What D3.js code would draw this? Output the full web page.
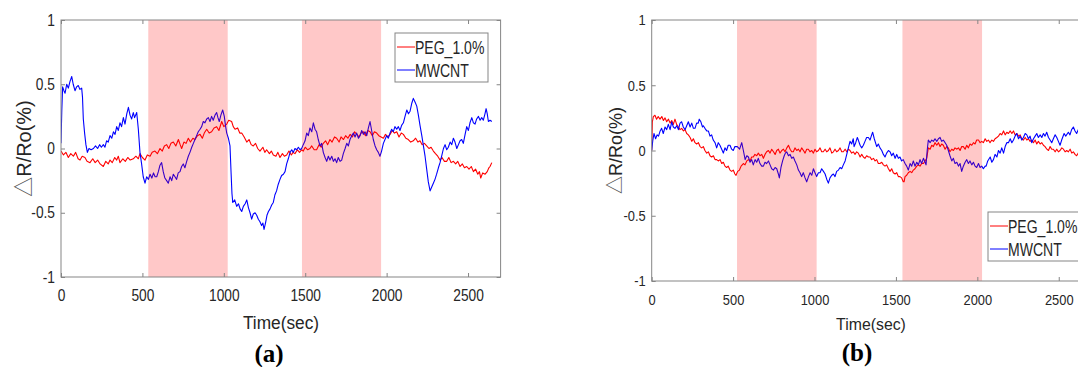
<!DOCTYPE html>
<html>
<head>
<meta charset="utf-8">
<script src="https://cdn.jsdelivr.net/npm/d3@7"></script>
<style>
  html, body { margin: 0; padding: 0; background: #fff; }
  svg { display: block; }
</style>
</head>
<body>
<div id="chart"></div>
<script>
// ---- data ----
const timeTicks = [0, 500, 1000, 1500, 2000, 2500];
const yTicks = [-1, -0.5, 0, 0.5, 1];
const seriesNames = ["PEG_1.0%", "MWCNT"];
const seriesColors = ["#ff0000", "#0000ff"];

// shaded intervals (sec)
const shadeA = [[536, 1024], [1480, 1966]];
const shadeB = [[524, 1013], [1540, 2029]];

// panel (a)
const pegA = [[0,-0.02],[15,-0.05],[30,-0.03],[45,-0.07],[60,-0.04],[76,-0.06],[90,-0.03],[105,-0.08],[117,-0.09],[130,-0.06],[147,-0.07],[160,-0.10],[178,-0.11],[195,-0.08],[210,-0.11],[225,-0.09],[240,-0.12],[260,-0.14],[275,-0.10],[290,-0.12],[301,-0.09],[315,-0.11],[330,-0.07],[342,-0.09],[352,-0.06],[362,-0.11],[380,-0.08],[395,-0.10],[410,-0.07],[425,-0.09],[444,-0.08],[460,-0.06],[475,-0.08],[485,-0.04],[500,-0.07],[516,-0.09],[530,-0.05],[547,-0.06],[560,-0.03],[577,-0.02],[592,-0.04],[608,0.0],[622,-0.02],[635,0.02],[649,0.03],[662,0.0],[675,0.04],[690,0.05],[705,0.02],[721,0.07],[732,0.03],[741,0.0],[755,0.05],[768,0.04],[782,0.08],[795,0.05],[810,0.08],[823,0.07],[838,0.10],[854,0.11],[868,0.08],[880,0.12],[895,0.15],[910,0.12],[925,0.13],[940,0.16],[956,0.17],[970,0.14],[987,0.21],[1000,0.17],[1018,0.19],[1030,0.22],[1048,0.21],[1058,0.17],[1069,0.15],[1085,0.16],[1098,0.12],[1110,0.12],[1125,0.09],[1141,0.05],[1155,0.07],[1168,0.03],[1181,0.02],[1195,0.04],[1208,0.0],[1222,-0.02],[1240,0.01],[1252,-0.03],[1263,-0.01],[1280,-0.04],[1292,-0.02],[1304,-0.05],[1320,-0.06],[1332,-0.03],[1345,-0.07],[1360,-0.04],[1372,-0.06],[1386,-0.05],[1400,-0.02],[1415,-0.05],[1425,-0.03],[1437,-0.04],[1452,-0.01],[1465,-0.03],[1478,-0.01],[1488,-0.02],[1500,0.01],[1515,-0.01],[1529,0.0],[1540,0.02],[1555,-0.01],[1570,-0.01],[1585,0.03],[1598,0.01],[1611,0.04],[1625,0.06],[1638,0.03],[1652,0.07],[1665,0.05],[1680,0.09],[1693,0.08],[1708,0.05],[1720,0.09],[1735,0.07],[1748,0.10],[1762,0.08],[1776,0.11],[1790,0.09],[1803,0.13],[1817,0.11],[1830,0.09],[1843,0.12],[1857,0.13],[1870,0.10],[1884,0.14],[1898,0.13],[1912,0.10],[1925,0.13],[1939,0.12],[1952,0.10],[1966,0.09],[1980,0.08],[1993,0.11],[2008,0.09],[2021,0.11],[2035,0.14],[2048,0.12],[2062,0.13],[2076,0.09],[2090,0.12],[2103,0.11],[2118,0.08],[2133,0.07],[2148,0.05],[2164,0.06],[2178,0.08],[2192,0.05],[2205,0.06],[2218,0.03],[2232,0.04],[2246,0.02],[2260,0.0],[2273,0.01],[2287,-0.02],[2300,-0.04],[2314,-0.06],[2328,-0.09],[2340,-0.07],[2355,-0.10],[2369,-0.10],[2382,-0.07],[2396,-0.11],[2410,-0.10],[2424,-0.12],[2437,-0.10],[2451,-0.14],[2465,-0.12],[2478,-0.15],[2492,-0.14],[2506,-0.16],[2520,-0.14],[2533,-0.18],[2546,-0.16],[2560,-0.20],[2570,-0.18],[2578,-0.23],[2590,-0.19],[2605,-0.20],[2618,-0.18],[2628,-0.15],[2635,-0.14],[2646,-0.11]];

const mwcntA = [[0,0.04],[5,0.30],[10,0.48],[18,0.45],[25,0.43],[35,0.50],[45,0.47],[55,0.52],[66,0.56],[75,0.50],[86,0.45],[96,0.48],[106,0.49],[116,0.46],[127,0.47],[132,0.40],[137,0.23],[145,0.12],[153,0.03],[162,-0.03],[172,0.0],[185,-0.01],[199,0.0],[212,0.02],[225,0.0],[237,0.03],[248,0.01],[260,0.03],[270,0.01],[280,0.06],[290,0.05],[301,0.10],[312,0.08],[322,0.13],[332,0.11],[342,0.17],[352,0.14],[362,0.20],[372,0.17],[383,0.24],[393,0.19],[404,0.27],[414,0.32],[424,0.26],[434,0.23],[444,0.28],[452,0.24],[465,0.28],[475,0.15],[485,-0.03],[495,-0.12],[505,-0.22],[516,-0.27],[526,-0.22],[537,-0.24],[547,-0.20],[558,-0.23],[568,-0.19],[578,-0.22],[588,-0.22],[598,-0.18],[608,-0.13],[618,-0.11],[628,-0.18],[638,-0.23],[649,-0.25],[659,-0.27],[670,-0.22],[680,-0.25],[690,-0.20],[700,-0.22],[710,-0.24],[720,-0.19],[731,-0.18],[741,-0.14],[751,-0.12],[761,-0.15],[772,-0.10],[782,-0.06],[792,-0.03],[803,0.01],[813,0.04],[823,0.07],[833,0.10],[843,0.13],[854,0.15],[864,0.17],[874,0.21],[884,0.20],[895,0.23],[905,0.24],[915,0.21],[925,0.25],[935,0.22],[946,0.26],[956,0.28],[964,0.24],[972,0.21],[982,0.26],[993,0.30],[1003,0.25],[1010,0.18],[1018,0.12],[1028,0.08],[1038,0.02],[1045,-0.20],[1050,-0.35],[1055,-0.42],[1067,-0.40],[1079,-0.45],[1090,-0.43],[1100,-0.47],[1110,-0.49],[1120,-0.45],[1131,-0.43],[1141,-0.40],[1151,-0.46],[1161,-0.50],[1171,-0.55],[1181,-0.51],[1192,-0.50],[1202,-0.52],[1212,-0.55],[1222,-0.57],[1232,-0.60],[1240,-0.58],[1247,-0.63],[1256,-0.58],[1265,-0.52],[1274,-0.49],[1284,-0.47],[1294,-0.44],[1304,-0.42],[1314,-0.36],[1324,-0.33],[1334,-0.28],[1345,-0.24],[1355,-0.21],[1366,-0.20],[1376,-0.18],[1386,-0.12],[1396,-0.08],[1407,-0.03],[1417,-0.01],[1427,-0.03],[1437,0.0],[1447,-0.01],[1458,0.01],[1468,-0.01],[1478,0.0],[1488,0.03],[1499,0.06],[1509,0.12],[1519,0.10],[1529,0.16],[1540,0.13],[1550,0.20],[1560,0.15],[1570,0.13],[1580,0.07],[1591,0.02],[1601,0.04],[1611,-0.03],[1622,-0.07],[1632,-0.10],[1642,-0.06],[1652,-0.09],[1663,-0.06],[1673,-0.10],[1683,-0.08],[1693,-0.11],[1703,-0.07],[1714,-0.10],[1724,-0.09],[1734,-0.04],[1745,0.0],[1755,0.04],[1765,0.02],[1775,0.07],[1786,0.10],[1796,0.12],[1806,0.09],[1816,0.12],[1827,0.08],[1837,0.10],[1847,0.14],[1857,0.11],[1867,0.13],[1878,0.10],[1888,0.16],[1898,0.21],[1908,0.14],[1918,0.07],[1929,0.02],[1939,-0.01],[1949,-0.03],[1959,-0.06],[1969,-0.02],[1980,0.04],[1990,0.07],[2000,0.10],[2010,0.08],[2021,0.12],[2031,0.15],[2041,0.13],[2051,0.17],[2062,0.15],[2072,0.17],[2082,0.14],[2092,0.18],[2103,0.20],[2113,0.25],[2124,0.30],[2134,0.27],[2144,0.29],[2154,0.35],[2164,0.39],[2175,0.36],[2185,0.33],[2195,0.26],[2205,0.18],[2216,0.10],[2226,0.02],[2236,-0.06],[2246,-0.16],[2256,-0.26],[2267,-0.33],[2277,-0.30],[2287,-0.27],[2297,-0.24],[2307,-0.20],[2318,-0.15],[2328,-0.11],[2338,-0.06],[2349,0.0],[2359,0.03],[2369,-0.01],[2379,0.01],[2390,0.05],[2400,0.03],[2410,0.08],[2420,0.05],[2431,0.0],[2441,0.03],[2451,0.06],[2461,0.07],[2471,0.04],[2482,0.11],[2492,0.17],[2502,0.14],[2512,0.20],[2523,0.24],[2533,0.20],[2543,0.19],[2553,0.23],[2564,0.25],[2574,0.22],[2584,0.24],[2594,0.22],[2604,0.27],[2611,0.31],[2618,0.27],[2625,0.21],[2635,0.22],[2646,0.21]];

// panel (b)
const pegB = [[0,0.0],[4,0.22],[10,0.26],[20,0.27],[30,0.24],[40,0.26],[51,0.24],[62,0.26],[72,0.23],[82,0.25],[92,0.22],[103,0.24],[113,0.21],[123,0.23],[133,0.20],[143,0.24],[153,0.20],[164,0.18],[174,0.16],[184,0.17],[195,0.15],[205,0.16],[215,0.13],[225,0.12],[236,0.10],[246,0.07],[256,0.09],[266,0.06],[276,0.05],[287,0.06],[297,0.03],[307,0.02],[317,0.03],[327,0.0],[338,-0.02],[348,-0.01],[358,-0.04],[368,-0.05],[379,-0.04],[389,-0.07],[399,-0.07],[409,-0.08],[420,-0.07],[430,-0.10],[440,-0.09],[450,-0.12],[460,-0.13],[470,-0.12],[481,-0.15],[491,-0.16],[501,-0.15],[511,-0.18],[518,-0.19],[528,-0.16],[539,-0.15],[549,-0.12],[563,-0.10],[573,-0.11],[584,-0.08],[594,-0.07],[604,-0.08],[614,-0.05],[624,-0.05],[634,-0.03],[645,-0.04],[655,-0.02],[665,-0.04],[676,-0.03],[686,-0.06],[696,-0.03],[706,-0.01],[717,0.0],[727,-0.02],[737,0.01],[748,-0.01],[758,-0.03],[768,0.0],[778,0.01],[788,-0.02],[799,0.0],[809,0.01],[819,-0.01],[830,0.02],[840,0.04],[850,0.01],[860,-0.01],[870,-0.01],[880,0.02],[891,0.0],[901,0.01],[911,-0.01],[921,0.02],[932,0.0],[942,-0.02],[952,0.01],[962,0.01],[972,-0.01],[983,0.0],[993,-0.02],[1003,0.01],[1013,-0.01],[1024,0.0],[1034,0.02],[1044,-0.01],[1054,-0.01],[1065,0.01],[1075,-0.01],[1085,0.0],[1095,0.02],[1106,-0.02],[1116,-0.01],[1126,0.01],[1136,-0.01],[1147,0.0],[1157,0.02],[1167,-0.01],[1177,-0.01],[1188,0.01],[1198,-0.01],[1208,0.01],[1218,0.0],[1228,-0.02],[1238,-0.01],[1249,-0.03],[1259,-0.01],[1269,-0.02],[1280,-0.05],[1290,-0.03],[1300,-0.05],[1310,-0.06],[1320,-0.04],[1331,-0.05],[1341,-0.05],[1351,-0.07],[1362,-0.06],[1372,-0.08],[1382,-0.07],[1392,-0.10],[1402,-0.10],[1413,-0.09],[1423,-0.11],[1433,-0.12],[1443,-0.11],[1454,-0.14],[1464,-0.16],[1474,-0.14],[1484,-0.17],[1495,-0.18],[1505,-0.17],[1515,-0.20],[1525,-0.20],[1535,-0.21],[1545,-0.24],[1550,-0.24],[1556,-0.20],[1566,-0.19],[1576,-0.17],[1587,-0.16],[1597,-0.17],[1607,-0.15],[1617,-0.14],[1628,-0.12],[1638,-0.11],[1648,-0.12],[1658,-0.10],[1669,-0.10],[1679,-0.08],[1689,-0.06],[1694,-0.02],[1699,0.02],[1710,0.01],[1720,0.04],[1730,0.03],[1740,0.06],[1751,0.04],[1761,0.06],[1771,0.03],[1781,0.05],[1791,0.04],[1802,0.01],[1812,0.03],[1822,0.02],[1832,-0.01],[1843,0.01],[1853,0.0],[1863,0.02],[1873,0.01],[1884,0.02],[1894,0.0],[1904,0.03],[1914,0.03],[1925,0.01],[1935,0.04],[1945,0.02],[1955,0.05],[1966,0.04],[1976,0.06],[1986,0.05],[1996,0.08],[2007,0.08],[2017,0.06],[2027,0.07],[2037,0.06],[2048,0.09],[2058,0.07],[2068,0.08],[2078,0.06],[2089,0.08],[2099,0.07],[2109,0.09],[2120,0.10],[2130,0.11],[2140,0.13],[2150,0.12],[2161,0.15],[2171,0.12],[2181,0.14],[2191,0.13],[2202,0.15],[2212,0.13],[2222,0.15],[2232,0.12],[2243,0.13],[2253,0.11],[2263,0.12],[2273,0.09],[2283,0.08],[2294,0.10],[2304,0.08],[2314,0.09],[2324,0.07],[2335,0.08],[2345,0.06],[2355,0.08],[2365,0.05],[2375,0.07],[2386,0.05],[2396,0.06],[2406,0.04],[2416,0.03],[2427,0.01],[2437,0.0],[2447,0.03],[2457,0.01],[2467,0.01],[2478,-0.01],[2488,0.01],[2498,-0.01],[2508,0.0],[2519,0.02],[2529,0.01],[2539,-0.01],[2549,0.0],[2559,-0.01],[2570,0.01],[2580,-0.02],[2590,-0.01],[2600,-0.03],[2610,-0.04],[2620,-0.02],[2640,-0.03]];

const mwcntB = [[0,0.0],[7,0.08],[14,0.13],[24,0.09],[33,0.12],[42,0.11],[52,0.15],[61,0.17],[71,0.13],[82,0.18],[92,0.16],[102,0.20],[113,0.16],[123,0.22],[133,0.18],[143,0.17],[154,0.19],[164,0.16],[174,0.21],[184,0.22],[194,0.18],[205,0.16],[215,0.19],[225,0.22],[236,0.18],[246,0.21],[256,0.17],[266,0.17],[276,0.21],[286,0.21],[292,0.24],[302,0.22],[312,0.18],[317,0.19],[327,0.17],[338,0.15],[348,0.15],[358,0.11],[368,0.12],[378,0.08],[389,0.06],[399,0.02],[409,0.06],[419,0.04],[430,0.01],[440,-0.02],[450,0.02],[460,0.0],[470,0.04],[481,0.04],[491,0.01],[501,0.0],[511,0.03],[526,0.03],[540,0.01],[553,0.06],[563,0.0],[574,-0.07],[584,-0.04],[594,-0.05],[604,-0.09],[614,-0.07],[624,-0.11],[635,-0.07],[645,-0.09],[655,-0.06],[665,-0.10],[676,-0.12],[686,-0.12],[696,-0.09],[706,-0.10],[717,-0.08],[727,-0.11],[737,-0.14],[748,-0.15],[758,-0.13],[768,-0.14],[778,-0.18],[784,-0.21],[794,-0.13],[804,-0.08],[814,-0.04],[821,-0.02],[829,-0.01],[840,-0.04],[850,-0.03],[860,-0.06],[870,-0.05],[880,-0.08],[891,-0.11],[901,-0.15],[911,-0.17],[921,-0.20],[931,-0.17],[942,-0.21],[952,-0.24],[963,-0.20],[973,-0.17],[983,-0.19],[993,-0.14],[1003,-0.17],[1013,-0.20],[1024,-0.17],[1034,-0.17],[1044,-0.14],[1055,-0.16],[1065,-0.18],[1075,-0.22],[1085,-0.25],[1095,-0.21],[1106,-0.19],[1116,-0.18],[1126,-0.20],[1136,-0.16],[1147,-0.15],[1157,-0.13],[1167,-0.14],[1177,-0.11],[1188,-0.08],[1198,-0.03],[1208,0.02],[1218,0.07],[1228,0.05],[1238,0.09],[1243,0.03],[1253,0.06],[1263,0.10],[1269,0.08],[1280,0.04],[1290,0.02],[1300,0.04],[1310,0.07],[1320,0.10],[1331,0.10],[1341,0.08],[1351,0.12],[1357,0.14],[1367,0.09],[1382,0.03],[1392,0.05],[1402,0.02],[1413,0.0],[1423,-0.03],[1433,-0.05],[1443,-0.02],[1454,0.0],[1464,-0.01],[1474,-0.04],[1484,-0.02],[1495,-0.06],[1505,-0.03],[1515,-0.06],[1525,-0.05],[1535,-0.08],[1545,-0.07],[1556,-0.10],[1566,-0.12],[1576,-0.15],[1587,-0.10],[1597,-0.12],[1607,-0.08],[1617,-0.12],[1628,-0.09],[1638,-0.11],[1648,-0.07],[1658,-0.10],[1669,-0.06],[1679,-0.09],[1685,-0.11],[1692,0.0],[1699,0.08],[1710,0.06],[1720,0.08],[1730,0.07],[1740,0.09],[1751,0.07],[1761,0.09],[1771,0.10],[1781,0.07],[1791,0.08],[1802,0.06],[1812,0.04],[1822,0.0],[1832,-0.04],[1843,-0.08],[1853,-0.06],[1863,-0.10],[1874,-0.09],[1884,-0.12],[1894,-0.10],[1904,-0.16],[1914,-0.12],[1925,-0.09],[1935,-0.07],[1945,-0.10],[1955,-0.08],[1966,-0.11],[1976,-0.09],[1986,-0.12],[1996,-0.13],[2007,-0.10],[2017,-0.13],[2027,-0.12],[2037,-0.14],[2048,-0.12],[2054,-0.12],[2064,-0.08],[2079,-0.05],[2089,-0.09],[2099,-0.07],[2109,-0.03],[2120,-0.05],[2130,0.0],[2140,-0.02],[2150,0.02],[2161,-0.02],[2171,0.03],[2181,0.06],[2191,0.06],[2202,0.09],[2212,0.06],[2222,0.08],[2232,0.11],[2242,0.13],[2253,0.09],[2263,0.11],[2273,0.08],[2283,0.10],[2294,0.13],[2304,0.12],[2314,0.09],[2324,0.11],[2334,0.06],[2345,0.09],[2355,0.11],[2365,0.13],[2375,0.10],[2386,0.12],[2396,0.10],[2406,0.13],[2416,0.11],[2426,0.14],[2437,0.10],[2447,0.08],[2457,0.06],[2467,0.09],[2478,0.12],[2488,0.10],[2498,0.07],[2508,0.04],[2518,0.08],[2533,0.13],[2543,0.11],[2559,0.14],[2569,0.12],[2579,0.16],[2590,0.18],[2600,0.15],[2610,0.13],[2620,0.16],[2640,0.12]];

// ---- layout ----
const W = 1078, H = 367;
const axisColor = "#858585";
const textColor = "#262626";
const font = "'Liberation Sans', Arial, sans-serif";

const svg = d3.select("#chart").append("svg")
  .attr("width", W)
  .attr("height", H);

// text that is a little narrower than the font (the original figure was squeezed)
function label(g, x, y, str, size, sx, anchor) {
  return g.append("text")
    .attr("transform", "translate(" + x + "," + y + ") scale(" + sx + ",1)")
    .attr("text-anchor", anchor)
    .style("font-family", font)
    .style("font-size", size + "px")
    .style("fill", textColor)
    .text(str);
}

const panels = [
  { id: "a", peg: pegA, mwcnt: mwcntA, shade: shadeA,
    left: 61, right: 500.6, top: 20, bottom: 277,
    tickSize: 16, tickSx: 0.86, ylabX: 31, ylabSize: 21,
    xlab: { x: 281, y: 329, size: 18, sx: 0.96 },
    tag: { x: 269, y: 362 },
    legend: { x: 395, y: 33, w: 93, h: 49 } },
  { id: "b", peg: pegB, mwcnt: mwcntB, shade: shadeB,
    left: 651.7, right: 1091.3, top: 20, bottom: 281,
    tickSize: 15, tickSx: 0.86, ylabX: 622, ylabSize: 19,
    xlab: { x: 871, y: 330, size: 16.5, sx: 0.96 },
    tag: { x: 857, y: 361 },
    legend: { x: 988, y: 212, w: 93, h: 49 } }
];

panels.forEach(function (p) {
  const x = d3.scaleLinear().domain([0, 2700]).range([p.left, p.right]);
  const y = d3.scaleLinear().domain([-1, 1]).range([p.bottom, p.top]);
  const g = svg.append("g").attr("class", "panel-" + p.id);

  g.append("clipPath").attr("id", "clip-" + p.id)
    .append("rect")
    .attr("x", p.left).attr("y", p.top)
    .attr("width", p.right - p.left).attr("height", p.bottom - p.top);

  const line = d3.line()
    .x(function (d) { return x(d[0]); })
    .y(function (d) { return y(d[1]); });

  const plot = g.append("g").attr("clip-path", "url(#clip-" + p.id + ")");
  [p.peg, p.mwcnt].forEach(function (s, i) {
    plot.append("path")
      .datum(s)
      .attr("fill", "none")
      .attr("stroke", seriesColors[i])
      .attr("stroke-width", 1.1)
      .attr("stroke-linejoin", "round")
      .attr("d", line);
  });

  // translucent shading over the lines (makes the blue look purple underneath)
  plot.selectAll(".shade")
    .data(p.shade)
    .enter()
    .append("rect")
    .attr("class", "shade")
    .attr("x", function (d) { return x(d[0]); })
    .attr("y", p.top)
    .attr("width", function (d) { return x(d[1]) - x(d[0]); })
    .attr("height", p.bottom - p.top)
    .attr("fill", "#ff0000")
    .attr("fill-opacity", 0.215);

  // axes
  const xAxis = g.append("g")
    .attr("transform", "translate(0," + p.bottom + ")")
    .call(d3.axisBottom(x).tickValues(timeTicks).tickSizeInner(-4).tickSizeOuter(0).tickPadding(13)
      .tickFormat(function (d) { return String(d); }));
  const yAxis = g.append("g")
    .attr("transform", "translate(" + p.left + ",0)")
    .call(d3.axisLeft(y).tickValues(yTicks).tickSizeInner(-4).tickSizeOuter(0).tickPadding(7)
      .tickFormat(function (d) { return String(d); }));
  g.append("g")
    .attr("transform", "translate(0," + p.top + ")")
    .call(d3.axisTop(x).tickValues(timeTicks).tickSizeInner(-4).tickSizeOuter(0).tickFormat(""));
  g.append("g")
    .attr("transform", "translate(" + p.right + ",0)")
    .call(d3.axisRight(y).tickValues(yTicks).tickSizeInner(-4).tickSizeOuter(0).tickFormat(""));

  g.selectAll(".domain").remove();
  g.selectAll(".tick line").attr("stroke", axisColor);
  [xAxis, yAxis].forEach(function (a) {
    a.selectAll("text")
      .attr("transform", "scale(" + p.tickSx + ",1)")
      .style("font-family", font)
      .style("font-size", p.tickSize + "px")
      .style("fill", textColor);
  });

  g.append("rect")
    .attr("x", p.left).attr("y", p.top)
    .attr("width", p.right - p.left).attr("height", p.bottom - p.top)
    .attr("fill", "none")
    .attr("stroke", axisColor)
    .attr("stroke-width", 1);

  // axis titles
  label(g, p.xlab.x, p.xlab.y, "Time(sec)", p.xlab.size, p.xlab.sx, "middle");
  const yl = g.append("text")
    .attr("transform", "translate(" + p.ylabX + "," + ((p.top + p.bottom) / 2) + ") rotate(-90) scale(0.95,1)")
    .attr("text-anchor", "middle")
    .style("font-family", font)
    .style("font-size", p.ylabSize + "px")
    .style("fill", textColor);
  yl.append("tspan")
    .style("font-family", "'Noto Sans CJK SC', 'DejaVu Sans', sans-serif")
    .style("fill", "#555")
    .text("△");
  yl.append("tspan").text("R/Ro(%)");

  // panel tag
  g.append("text")
    .attr("x", p.tag.x).attr("y", p.tag.y)
    .attr("text-anchor", "middle")
    .style("font-family", "'Liberation Serif', 'DejaVu Serif', serif")
    .style("font-weight", "bold")
    .style("font-size", "25px")
    .style("fill", "#000")
    .text("(" + p.id + ")");

  // legend
  const lg = g.append("g").attr("transform", "translate(" + p.legend.x + "," + p.legend.y + ")");
  lg.append("rect")
    .attr("width", p.legend.w).attr("height", p.legend.h)
    .attr("fill", "#fff")
    .attr("stroke", axisColor);
  seriesNames.forEach(function (name, i) {
    const cy = 14 + i * 23;
    lg.append("line")
      .attr("x1", 2).attr("x2", 20)
      .attr("y1", cy).attr("y2", cy)
      .attr("stroke", seriesColors[i]).attr("stroke-width", 1);
    label(lg, 20, cy + 6.5, name, 18, 0.78, "start");
  });
});
</script>
</body>
</html>
